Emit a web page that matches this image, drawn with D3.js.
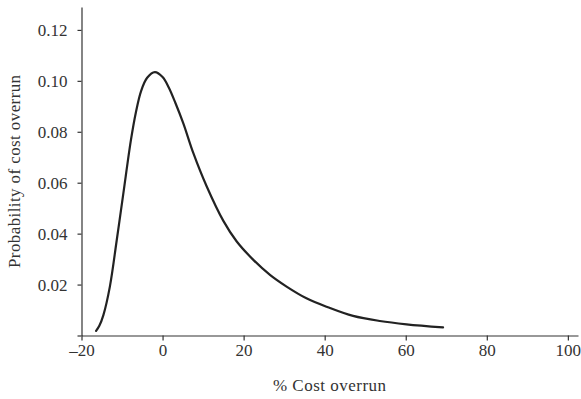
<!DOCTYPE html>
<html>
<head>
<meta charset="utf-8">
<script src="https://cdn.jsdelivr.net/npm/d3@7"></script>
<style>
  body { margin: 0; background: #fff; }
  svg text { font-family: "Liberation Serif", "Times New Roman", serif; fill: #333; }
</style>
</head>
<body>
<svg id="chart"></svg>
<script>
// values
var overrunPct = [-16.4, -15.6, -14.6, -13.0, -11.3, -9.7, -7.8, -6.6, -5.3, -3.8,
                  -1.9, 0.0, 1.5, 3.2, 5.1, 7.6, 10.9, 15.0, 18.3, 22.4,
                  26.5, 30.6, 35.5, 40.8, 47.0, 53.6, 60.2, 69.2];
var probability = [0.0018, 0.0038, 0.0080, 0.0192, 0.0375, 0.0555, 0.0768, 0.0875, 0.0960, 0.1012,
                   0.1034, 0.1015, 0.0975, 0.0912, 0.0834, 0.0716, 0.0585, 0.0450, 0.0369, 0.0297,
                   0.0238, 0.0192, 0.0146, 0.0111, 0.0077, 0.0057, 0.0044, 0.0032];

var xTicks = [-20, 0, 20, 40, 60, 80, 100];
var yTicks = [0, 0.02, 0.04, 0.06, 0.08, 0.10, 0.12];

var xLabel = "% Cost overrun";
var yLabel = "Probability of cost overrun";

var screen = {width:581, height:399};
var margins = {top:7, bottom:63.5, left:81.5, right:3};

var graph = {
    width: screen.width - margins.left - margins.right,
    height: screen.height - margins.top - margins.bottom
};

var svg = d3.select("#chart")
    .attr("width", screen.width)
    .attr("height", screen.height);

var xScale = d3.scaleLinear()
    .domain([-20, 102.5])
    .range([0, graph.width]);

var yScale = d3.scaleLinear()
    .domain([0, 0.129])
    .range([graph.height, 0]);

var g = svg.append("g")
    .attr("transform", "translate(" + margins.left + "," + margins.top + ")");

var xAxis = d3.axisBottom(xScale)
    .tickValues(xTicks)
    .tickSize(5)
    .tickPadding(3)
    .tickSizeOuter(0)
    .tickFormat(function(d){ return d < 0 ? "\u2013" + Math.abs(d) : d; });

var yAxis = d3.axisLeft(yScale)
    .tickValues(yTicks)
    .tickSize(4)
    .tickPadding(10)
    .tickSizeOuter(0)
    .tickFormat(function(d){ return d === 0 ? "" : d3.format(".2f")(d); });

var styleAxis = function(sel){
    sel.select(".domain").attr("stroke", "#333").attr("stroke-width", 1.2);
    sel.selectAll(".tick line").attr("stroke", "#333").attr("stroke-width", 1.2);
    sel.selectAll(".tick text").attr("font-size", 17).attr("fill", "#333");
    sel.attr("font-family", null);
};

g.append("g")
    .attr("transform", "translate(0," + graph.height + ")")
    .call(xAxis)
    .call(styleAxis);

g.append("g")
    .call(yAxis)
    .call(styleAxis);

var line = d3.line()
    .x(function(d, i){ return xScale(overrunPct[i]); })
    .y(function(d, i){ return yScale(probability[i]); })
    .curve(d3.curveCatmullRom.alpha(0.5));

g.append("path")
    .datum(probability)
    .attr("d", line)
    .attr("fill", "none")
    .attr("stroke", "#222")
    .attr("stroke-width", 2.2)
    .attr("stroke-linecap", "round");

// axis titles
svg.append("text")
    .attr("x", (margins.left + screen.width - margins.right) / 2)
    .attr("y", 391)
    .attr("text-anchor", "middle")
    .attr("font-size", 17)
    .attr("letter-spacing", 0.5)
    .text(xLabel);

svg.append("text")
    .attr("transform", "translate(19.5," + (margins.top + graph.height / 2) + ") rotate(-90)")
    .attr("text-anchor", "middle")
    .attr("font-size", 17)
    .attr("letter-spacing", 0.4)
    .text(yLabel);
</script>
</body>
</html>
